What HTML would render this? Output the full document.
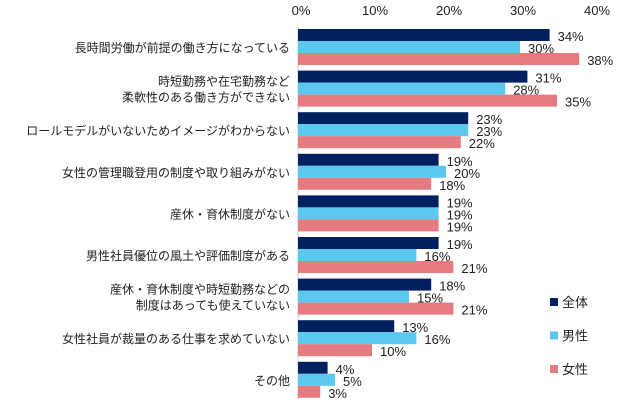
<!DOCTYPE html>
<html><head><meta charset="utf-8"><style>
body{margin:0;background:#fff;}
svg text{font-family:"Liberation Sans","Noto Sans CJK JP",sans-serif;fill:#222;}
</style></head><body>
<svg id="c" width="619" height="415"></svg>
<script>
const categories=["長時間労働が前提の働き方になっている","時短勤務や在宅勤務など\n柔軟性のある働き方ができない","ロールモデルがいないためイメージがわからない","女性の管理職登用の制度や取り組みがない","産休・育休制度がない","男性社員優位の風土や評価制度がある","産休・育休制度や時短勤務などの\n制度はあっても使えていない","女性社員が裁量のある仕事を求めていない","その他"];
const seriesNames=["全体","男性","女性"];
const allValues=[34,31,23,19,19,19,18,13,4];
const maleValues=[30,28,23,20,19,16,15,16,5];
const femaleValues=[38,35,22,18,19,21,21,10,3];
const ticks=[0,10,20,30,40];
const colors=["#002060","#5bc8f0","#e57a80"];
const svg=document.getElementById('c');
const NS="http://www.w3.org/2000/svg";
const x0=298,pxPer=7.4,top0=29,pitch=41.6,bh=12;
const xs=v=>x0+v*pxPer;
function mk(t,a,txt){const e=document.createElementNS(NS,t);for(const k in a)e.setAttribute(k,a[k]);if(txt!=null)e.textContent=txt;svg.appendChild(e);return e;}
ticks.forEach(t=>{const e=mk('text',{x:xs(t)+3,y:15,'text-anchor':'middle','font-size':13},t+'%');

});
const ax=mk('line',{x1:x0,y1:27,x2:x0,y2:399,stroke:'#ccc','stroke-width':1});


const series=[allValues,maleValues,femaleValues];
categories.forEach((c,i)=>{
 const gy=top0+i*pitch;
 const lines=c.split('\n');
 lines.forEach((ln,j)=>{const e=mk('text',{x:290,y:gy+18+5+(j-(lines.length-1)/2)*16,'text-anchor':'end','font-size':12},ln);
 
 });
 series.forEach((s,k)=>{
  const y=gy+k*bh;
  const r=mk('rect',{x:x0,y:y,width:xs(s[i])-x0,height:bh,fill:colors[k]});
  
  
  const t=mk('text',{x:xs(s[i])+8,y:y+bh/2+6,'font-size':13},s[i]+'%');
  
  
 });
});
seriesNames.forEach((n,k)=>{
 const y=302+k*33.5;
 const r=mk('rect',{x:550,y:y-4,width:8,height:8,fill:colors[k]});
 
 
 const t=mk('text',{x:562,y:y+5,'font-size':13},n);
 
 
});
</script>
</body></html>
